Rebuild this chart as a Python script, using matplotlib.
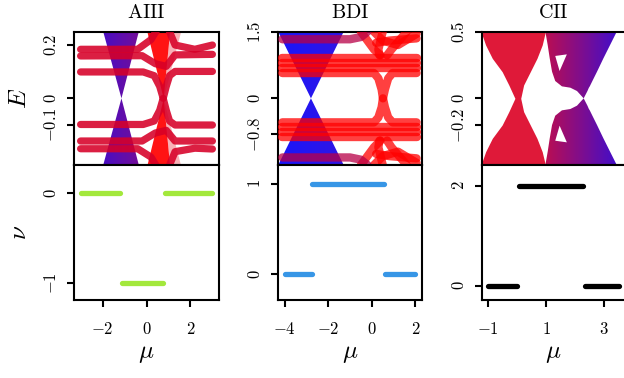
import numpy as np
import matplotlib
matplotlib.use("Agg")
import matplotlib.pyplot as plt
from matplotlib.colors import LinearSegmentedColormap
from matplotlib.patches import PathPatch

plt.rcParams["mathtext.fontset"] = "cm"
plt.rcParams["font.family"] = "serif"
plt.rcParams["font.serif"] = ["DejaVu Serif"]

# colour scale of the spectrum points: blue -> red
pol = LinearSegmentedColormap.from_list("pol", ["#0000ff", "#ff0000"])

# ---------------- AIII ----------------
aiii_xlim = (-3.3, 3.3)
aiii_ylim_E = (-0.25, 0.25)
aiii_ylim_nu = (-1.19, 0.31)
# gapless cones (E, left mu, right mu)
aiii_blue_E = [-0.25, 0.0, 0.25]
aiii_blue_left = [-1.97, -1.14, -1.97]
aiii_blue_right = [-0.35, -1.14, -0.35]
aiii_red_E = [-0.25, 0.0, 0.25]
aiii_red_left = [0.02, 0.76, 0.02]
aiii_red_right = [1.05, 0.76, 1.05]
aiii_red_far = [1.55, 0.76, 1.55]
# in-gap bands
aiii_band_mu = [
    [-3.0, -0.15, 0.35, 0.6, 0.76, 0.9, 1.05, 1.3, 3.0],
    [-3.0, -0.15, 0.35, 0.6, 0.76, 0.9, 1.05, 1.3, 3.0],
    [-3.0, -0.2, 0.4, 0.9, 1.3, 3.0],
    [-3.0, -0.2, 0.4, 0.9, 1.3, 3.0],
    [-3.0, -0.4, 0.2, 0.5],
    [1.0, 1.3, 2.2, 3.0],
    [-3.0, -0.4, 0.2, 0.5],
    [1.0, 1.3, 2.2, 3.0],
]
aiii_band_E = [
    [0.099, 0.099, 0.085, 0.045, 0.0, 0.045, 0.085, 0.101, 0.101],
    [-0.098, -0.098, -0.085, -0.045, 0.0, -0.045, -0.085, -0.1, -0.1],
    [0.159, 0.16, 0.13, 0.12, 0.163, 0.165],
    [-0.16, -0.16, -0.13, -0.12, -0.16, -0.16],
    [0.184, 0.184, 0.22, 0.26],
    [0.26, 0.2, 0.184, 0.2],
    [-0.189, -0.189, -0.22, -0.26],
    [-0.26, -0.2, -0.187, -0.19],
]
aiii_seg_start = [-3.0, -1.1, 0.86]
aiii_seg_end = [-1.2, 0.75, 3.0]
aiii_seg_nu = [0, -1, 0]

# ---------------- BDI ----------------
bdi_xlim = (-4.3, 2.3)
bdi_ylim_E = (-1.5, 1.5)
bdi_ylim_nu = (-0.29, 1.21)
bdi_blue_E = [-1.5, 0.0, 1.5]
bdi_blue_left = [-4.29, -2.79, -4.29]
bdi_blue_right = [-1.29, -2.79, -1.29]
bdi_band_mu = [
    [-4.1, 0.1, 0.3, 0.45, 0.51, 0.6, 0.75, 0.95, 2.05],
    [-4.1, 0.1, 0.3, 0.45, 0.51, 0.6, 0.75, 0.95, 2.05],
    [-4.1, 2.05], [-4.1, 2.05], [-4.1, 2.05],
    [-4.1, 2.05], [-4.1, 2.05], [-4.1, 2.05],
    [0.2, 0.8, 2.05], [-0.5, 0.1, 0.4], [0.5, 0.3, 0.35], [1.6, 0.9, 0.7],
    [2.05, 1.2, 0.5, 0.1],
    [0.2, 0.8, 2.05], [-0.5, 0.1, 0.4], [0.5, 0.3, 0.35], [1.6, 0.9, 0.7],
    [2.05, 1.2, 0.5, 0.1],
    [-4.1, -1.0, -0.5, -0.2], [-4.1, -1.0, -0.5, -0.2],
]
bdi_band_E = [
    [0.57, 0.57, 0.45, 0.2, 0.0, 0.2, 0.45, 0.57, 0.57],
    [-0.54, -0.54, -0.43, -0.2, 0.0, -0.2, -0.43, -0.54, -0.54],
    [0.68, 0.68], [0.79, 0.79], [0.9, 0.9],
    [-0.65, -0.65], [-0.76, -0.76], [-0.87, -0.87],
    [1.25, 1.3, 1.35], [1.5, 1.1, 0.97], [1.5, 1.1, 0.97], [1.5, 1.1, 0.97],
    [1.45, 1.2, 1.3, 1.5],
    [-1.25, -1.3, -1.35], [-1.5, -1.1, -0.95], [-1.5, -1.1, -0.95], [-1.5, -1.1, -0.95],
    [-1.45, -1.2, -1.3, -1.5],
    [1.33, 1.33, 1.38, 1.5], [-1.33, -1.33, -1.38, -1.5],
]
bdi_band_c = [1.0] * 18 + [0.72, 0.72]
bdi_seg_start = [-4.0, -2.73, 0.61]
bdi_seg_end = [-2.76, 0.54, 2.0]
bdi_seg_nu = [0, 1, 0]

# ---------------- CII ----------------
cii_xlim = (-1.225, 3.725)
cii_ylim_E = (-0.5, 0.5)
cii_ylim_nu = (-0.29, 2.41)
cii_red_E = [-0.5, -0.4, -0.3, -0.2, -0.1, 0.0, 0.1, 0.2, 0.3, 0.4, 0.5]
cii_red_left = [-1.25, -1.09, -0.86, -0.52, -0.29, -0.08, -0.29, -0.52, -0.86, -1.09, -1.25]
cii_red_right = [0.97, 0.86, 0.68, 0.45, 0.22, 0.12, 0.22, 0.45, 0.68, 0.86, 0.97]
cii_blue_E = [-0.5, -0.4, -0.3, -0.2, -0.13, -0.09, -0.08, -0.055, 0.0,
              0.055, 0.08, 0.09, 0.13, 0.2, 0.3, 0.4, 0.5]
cii_blue_left = [0.97, 1.05, 1.12, 1.2, 1.31, 1.54, 1.83, 2.06, 2.29,
                 2.06, 1.83, 1.54, 1.31, 1.2, 1.12, 1.05, 0.97]
cii_blue_right = [3.43, 3.2, 2.97, 2.75, 2.59, 2.5, 2.47, 2.42, 2.29,
                  2.42, 2.47, 2.5, 2.59, 2.75, 2.97, 3.2, 3.43]
cii_hole_mu = [1.31, 1.71, 1.46]
cii_hole_E = [0.318, 0.33, 0.205]
cii_seg_start = [-1.0, 0.06, 2.34]
cii_seg_end = [-0.01, 2.25, 3.5]
cii_seg_nu = [0, 2, 0]


def gradient_fill(ax, E, left, right, c0, c1, alpha):
    poly = ax.fill_betweenx(E, left, right, facecolor="none", edgecolor="none")
    patch = PathPatch(poly.get_paths()[0], transform=ax.transData,
                      facecolor="none", edgecolor="none")
    ax.add_patch(patch)
    ramp = np.linspace(c0, c1, 256)[None, :]
    im = ax.imshow(ramp, extent=[min(left), max(right), min(E), max(E)],
                   cmap=pol, vmin=0, vmax=1, aspect="auto", origin="lower",
                   alpha=alpha, zorder=1, interpolation="bilinear")
    im.set_clip_path(patch)


def draw_bands(ax, mus, Es, cs, alpha=0.88, lw=5.2):
    for mu, E, c in zip(mus, Es, cs):
        ax.plot(mu, E, color=pol(c), lw=lw, alpha=alpha, solid_capstyle="round",
                solid_joinstyle="round", zorder=3)


def draw_nu(ax, start, end, nu, color):
    for a, b, n in zip(start, end, nu):
        ax.plot([a, b], [n, n], color=color, lw=3.8, solid_capstyle="round")


def style(ax, yticks, ylabels, xticks=None, xlabels=None):
    for s in ax.spines.values():
        s.set_linewidth(1.5)
    ax.tick_params(direction="out", length=5, width=1.5, labelsize=12)
    ax.tick_params(axis="y", labelrotation=90, pad=5)
    ax.tick_params(axis="x", pad=10)
    ax.set_yticks(yticks)
    ax.set_yticklabels(ylabels, va="center")
    if xticks is None:
        ax.set_xticks([])
    else:
        ax.set_xticks(xticks)
        ax.set_xticklabels(xlabels)


fig = plt.figure(figsize=(6.24, 3.78), dpi=100)
W, H = 624.0, 378.0
lefts = [74 / W, 278 / W, 481.7 / W]
widths = [145 / W, 144 / W, 143.6 / W]
top_box = (1 - 165 / H, 133.3 / H)
bot_box = (1 - 300 / H, 135 / H)

axt = [fig.add_axes([l, top_box[0], w, top_box[1]]) for l, w in zip(lefts, widths)]
axb = [fig.add_axes([l, bot_box[0], w, bot_box[1]]) for l, w in zip(lefts, widths)]

# AIII spectrum
ax = axt[0]
gradient_fill(ax, aiii_blue_E, aiii_blue_left, aiii_blue_right, 0.25, 0.42, 0.95)
ax.fill_betweenx(aiii_red_E, aiii_red_right, aiii_red_far, color=pol(0.92), alpha=0.3, lw=0, zorder=1)
ax.fill_betweenx(aiii_red_E, aiii_red_left, aiii_red_right, color=pol(1.0), alpha=0.92, lw=0, zorder=2)
draw_bands(ax, aiii_band_mu, aiii_band_E, [0.84] * len(aiii_band_mu))
ax.set_xlim(aiii_xlim)
ax.set_ylim(aiii_ylim_E)
style(ax, [-0.1, 0, 0.2], [r"$-0.1$", r"$0$", r"$0.2$"])
ax.set_title(r"$\mathrm{AIII}$", fontsize=14.5, pad=10)
ax.set_ylabel(r"$E$", fontsize=18)
ax.yaxis.set_label_coords(-0.30, 0.5)

# BDI spectrum
ax = axt[1]
gradient_fill(ax, bdi_blue_E, bdi_blue_left, bdi_blue_right, 0.02, 0.12, 0.92)
draw_bands(ax, bdi_band_mu, bdi_band_E, bdi_band_c, alpha=0.75, lw=6.0)
ax.set_xlim(bdi_xlim)
ax.set_ylim(bdi_ylim_E)
style(ax, [-0.8, 0, 1.5], [r"$-0.8$", r"$0$", r"$1.5$"])
ax.set_title(r"$\mathrm{BDI}$", fontsize=14.5, pad=10)

# CII spectrum
ax = axt[2]
gradient_fill(ax, cii_blue_E, cii_blue_left, cii_blue_right, 0.72, 0.22, 0.95)
ax.fill(cii_hole_mu, cii_hole_E, color="white", lw=0, zorder=2)
ax.fill(cii_hole_mu, [-e for e in cii_hole_E], color="white", lw=0, zorder=2)
ax.fill_betweenx(cii_red_E, cii_red_left, cii_red_right, color=pol(0.86), alpha=0.9, lw=0, zorder=2)
ax.set_xlim(cii_xlim)
ax.set_ylim(cii_ylim_E)
style(ax, [-0.2, 0, 0.5], [r"$-0.2$", r"$0$", r"$0.5$"])
ax.set_title(r"$\mathrm{CII}$", fontsize=14.5, pad=10)

# winding numbers
nu_data = [
    (aiii_seg_start, aiii_seg_end, aiii_seg_nu, "#a3e83c", aiii_xlim, aiii_ylim_nu,
     [-1, 0], [r"$-1$", r"$0$"], [-2, 0, 2], [r"$-2$", r"$0$", r"$2$"]),
    (bdi_seg_start, bdi_seg_end, bdi_seg_nu, "#3796e6", bdi_xlim, bdi_ylim_nu,
     [0, 1], [r"$0$", r"$1$"], [-4, -2, 0, 2], [r"$-4$", r"$-2$", r"$0$", r"$2$"]),
    (cii_seg_start, cii_seg_end, cii_seg_nu, "black", cii_xlim, cii_ylim_nu,
     [0, 2], [r"$0$", r"$2$"], [-1, 1, 3], [r"$-1$", r"$1$", r"$3$"]),
]
for ax, (s, e, n, col, xl, yl, yt, ytl, xt, xtl) in zip(axb, nu_data):
    draw_nu(ax, s, e, n, col)
    ax.set_xlim(xl)
    ax.set_ylim(yl)
    style(ax, yt, ytl, xt, xtl)
    ax.set_xlabel(r"$\mu$", fontsize=18)
    ax.xaxis.set_label_coords(0.5, -0.31)

axb[0].set_ylabel(r"$\nu$", fontsize=18)
axb[0].yaxis.set_label_coords(-0.30, 0.5)

fig.savefig("out.png", dpi=100)
